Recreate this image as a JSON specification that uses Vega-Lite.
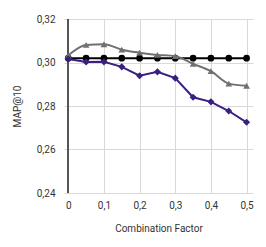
{
  "$schema": "https://vega.github.io/schema/vega-lite/v6.json",
  "autosize": "none",
  "width": 189,
  "height": 174,
  "padding": {"left": 64, "top": 19, "right": 13, "bottom": 54},
  "background": "white",
  "config": {
    "view": {"stroke": null},
    "font": "Roboto",
    "axis": {"labelFont": "Roboto", "titleFont": "Roboto", "labelColor": "#333", "titleColor": "#333", "labelFontSize": 10, "titleFontSize": 10, "titleFontWeight": "normal"}
  },
  "data": {"values": [
    {"s": "baseline", "x": 0, "y": 0.302},
    {"s": "baseline", "x": 0.05, "y": 0.302},
    {"s": "baseline", "x": 0.1, "y": 0.302},
    {"s": "baseline", "x": 0.15, "y": 0.302},
    {"s": "baseline", "x": 0.2, "y": 0.302},
    {"s": "baseline", "x": 0.25, "y": 0.302},
    {"s": "baseline", "x": 0.3, "y": 0.302},
    {"s": "baseline", "x": 0.35, "y": 0.302},
    {"s": "baseline", "x": 0.4, "y": 0.302},
    {"s": "baseline", "x": 0.45, "y": 0.302},
    {"s": "baseline", "x": 0.5, "y": 0.302},
    {"s": "gray", "x": 0, "y": 0.3033},
    {"s": "gray", "x": 0.05, "y": 0.3081},
    {"s": "gray", "x": 0.1, "y": 0.3084},
    {"s": "gray", "x": 0.15, "y": 0.3059},
    {"s": "gray", "x": 0.2, "y": 0.3045},
    {"s": "gray", "x": 0.25, "y": 0.3035},
    {"s": "gray", "x": 0.3, "y": 0.3029},
    {"s": "gray", "x": 0.35, "y": 0.2994},
    {"s": "gray", "x": 0.4, "y": 0.2960},
    {"s": "gray", "x": 0.45, "y": 0.2903},
    {"s": "gray", "x": 0.5, "y": 0.2893},
    {"s": "purple", "x": 0, "y": 0.3016},
    {"s": "purple", "x": 0.05, "y": 0.3002},
    {"s": "purple", "x": 0.1, "y": 0.3003},
    {"s": "purple", "x": 0.15, "y": 0.2980},
    {"s": "purple", "x": 0.2, "y": 0.2939},
    {"s": "purple", "x": 0.25, "y": 0.2957},
    {"s": "purple", "x": 0.3, "y": 0.2928},
    {"s": "purple", "x": 0.35, "y": 0.2840},
    {"s": "purple", "x": 0.4, "y": 0.2819},
    {"s": "purple", "x": 0.45, "y": 0.2777},
    {"s": "purple", "x": 0.5, "y": 0.2725}
  ]},
  "encoding": {
    "x": {"field": "x", "type": "quantitative", "scale": {"domain": [-0.012, 0.518], "nice": false, "zero": false},
      "axis": {"title": "Combination Factor", "values": [0, 0.1, 0.2, 0.3, 0.4, 0.5], "labelExpr": "replace(format(datum.value, '~g'), '.', ',')", "grid": true, "gridColor": "#d9d9d9", "domain": false, "ticks": false, "labelPadding": 7, "titlePadding": 13, "labelFlush": false}},
    "y": {"field": "y", "type": "quantitative", "scale": {"domain": [0.24, 0.32], "nice": false, "zero": false},
      "axis": {"title": "MAP@10", "values": [0.24, 0.26, 0.28, 0.3, 0.32], "labelExpr": "replace(format(datum.value, '.2f'), '.', ',')", "grid": true, "gridColor": "#d9d9d9", "domain": false, "ticks": false, "labelPadding": 9, "titlePadding": 14}}
  },
  "layer": [
    {"mark": {"type": "rule", "color": "#555", "strokeWidth": 1.5}, "encoding": {"x": {"datum": 0}, "y": null}},
    {"transform": [{"filter": "datum.s == 'baseline'"}], "mark": {"type": "line", "color": "#000000", "strokeWidth": 2}},
    {"transform": [{"filter": "datum.s == 'baseline'"}], "mark": {"type": "point", "shape": "circle", "filled": true, "opacity": 1, "color": "#000000", "size": 45}},
    {"transform": [{"filter": "datum.s == 'gray'"}], "mark": {"type": "line", "color": "#707070", "strokeWidth": 2, "interpolate": "monotone"}},
    {"transform": [{"filter": "datum.s == 'gray'"}], "mark": {"type": "point", "shape": "triangle-up", "filled": true, "opacity": 1, "color": "#707070", "size": 45}},
    {"transform": [{"filter": "datum.s == 'purple'"}], "mark": {"type": "line", "color": "#3b1f80", "strokeWidth": 2}},
    {"transform": [{"filter": "datum.s == 'purple'"}], "mark": {"type": "point", "shape": "diamond", "filled": true, "opacity": 1, "color": "#3b1f80", "size": 50}}
  ]
}
